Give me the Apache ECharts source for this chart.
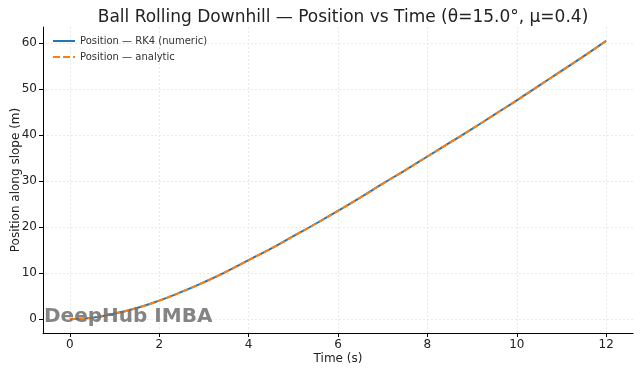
<!DOCTYPE html>
<html>
<head>
<meta charset="utf-8">
<script src="https://cdn.jsdelivr.net/npm/echarts@6/dist/echarts.min.js"></script>
<style>
html,body{margin:0;padding:0;background:#fff;}
#c{width:640px;height:374px;}
</style>
</head>
<body>
<div id="c"></div>
<script>
const titleText = 'Ball Rolling Downhill — Position vs Time (θ=15.0°, μ=0.4)';
const times = [0,0.5,1,1.5,2,2.5,3,3.5,4,4.5,5,5.5,6,6.5,7,7.5,8,8.5,9,9.5,10,10.5,11,11.5,12];
const posNumeric = [0,0.3,1.2,2.4,4.0,5.9,8.0,10.3,12.8,15.3,18.0,20.7,23.5,26.4,29.4,32.3,35.3,38.3,41.3,44.4,47.5,50.7,53.9,57.1,60.4];
const posAnalytic = [0,0.3,1.2,2.4,4.0,5.9,8.0,10.3,12.8,15.3,18.0,20.7,23.5,26.4,29.4,32.3,35.3,38.3,41.3,44.4,47.5,50.7,53.9,57.1,60.4];
const xTicks = [0,2,4,6,8,10,12];
const yTicks = [0,10,20,30,40,50,60];
const seriesNames = ['Position — RK4 (numeric)', 'Position — analytic'];

const font = 'DejaVu Sans';
const chart = echarts.init(document.getElementById('c'), null, {renderer: 'canvas'});
const pairs = (xs, ys) => xs.map((x, i) => [x, ys[i]]);

chart.setOption({
  animation: false,
  backgroundColor: '#ffffff',
  title: {
    text: titleText, left: 338, top: 4, textAlign: 'center',
    textStyle: {fontFamily: font, fontSize: 17, fontWeight: 'normal', color: '#222'}
  },
  legend: {
    orient: 'vertical', left: 48, top: 31, itemGap: 6, itemWidth: 22, itemHeight: 2,
    textStyle: {fontFamily: font, fontSize: 10, color: '#333'},
    data: [
      {name: seriesNames[0], icon: 'rect'},
      {name: seriesNames[1], icon: 'path://M0,0h7v2h-7z M10,0h7v2h-7z M20,0h2v2h-2z'}
    ]
  },
  grid: {left: 43, right: 7, top: 27, bottom: 41, containLabel: false, outerBoundsMode: 'none'},
  xAxis: {
    type: 'value', min: -0.6, max: 12.6,
    name: 'Time (s)', nameLocation: 'middle', nameGap: 20, nameMoveOverlap: false,
    nameTextStyle: {fontFamily: font, fontSize: 12, color: '#222', verticalAlign: 'top'},
    axisLine: {show: true, onZero: false, lineStyle: {color: '#000', width: 1}},
    axisTick: {show: true, length: 4, customValues: xTicks, lineStyle: {color: '#000'}},
    axisLabel: {customValues: xTicks, fontFamily: font, fontSize: 12, color: '#222', margin: 6},
    splitLine: {show: true, lineStyle: {color: '#e4e4e4', type: [2, 2], width: 0.8}}
  },
  yAxis: {
    type: 'value', min: -3.02, max: 63.42,
    name: 'Position along slope (m)', nameLocation: 'middle', nameGap: 21, nameMoveOverlap: false,
    nameTextStyle: {fontFamily: font, fontSize: 12, color: '#222'},
    axisLine: {show: true, onZero: false, lineStyle: {color: '#000', width: 1}},
    axisTick: {show: true, length: 4, customValues: yTicks, lineStyle: {color: '#000'}},
    axisLabel: {customValues: yTicks, fontFamily: font, fontSize: 12, color: '#222', margin: 6},
    splitLine: {show: true, lineStyle: {color: '#e4e4e4', type: [2, 2], width: 0.8}}
  },
  series: [
    {
      name: seriesNames[0], type: 'line', smooth: true, symbol: 'none',
      data: pairs(times, posNumeric),
      lineStyle: {color: '#1f77b4', width: 2}, itemStyle: {color: '#1f77b4'}
    },
    {
      name: seriesNames[1], type: 'line', smooth: true, symbol: 'none',
      data: pairs(times, posAnalytic),
      lineStyle: {color: '#ff7f0e', width: 2, type: [6, 3]}, itemStyle: {color: '#ff7f0e'}
    }
  ],
  graphic: [{
    type: 'text', left: 44, top: 307, z: 100,
    style: {text: 'DeepHub IMBA', fontFamily: font, fontSize: 20, fontWeight: 'bold', fill: 'rgba(110,110,110,0.85)'}
  }]
});
</script>
</body>
</html>
